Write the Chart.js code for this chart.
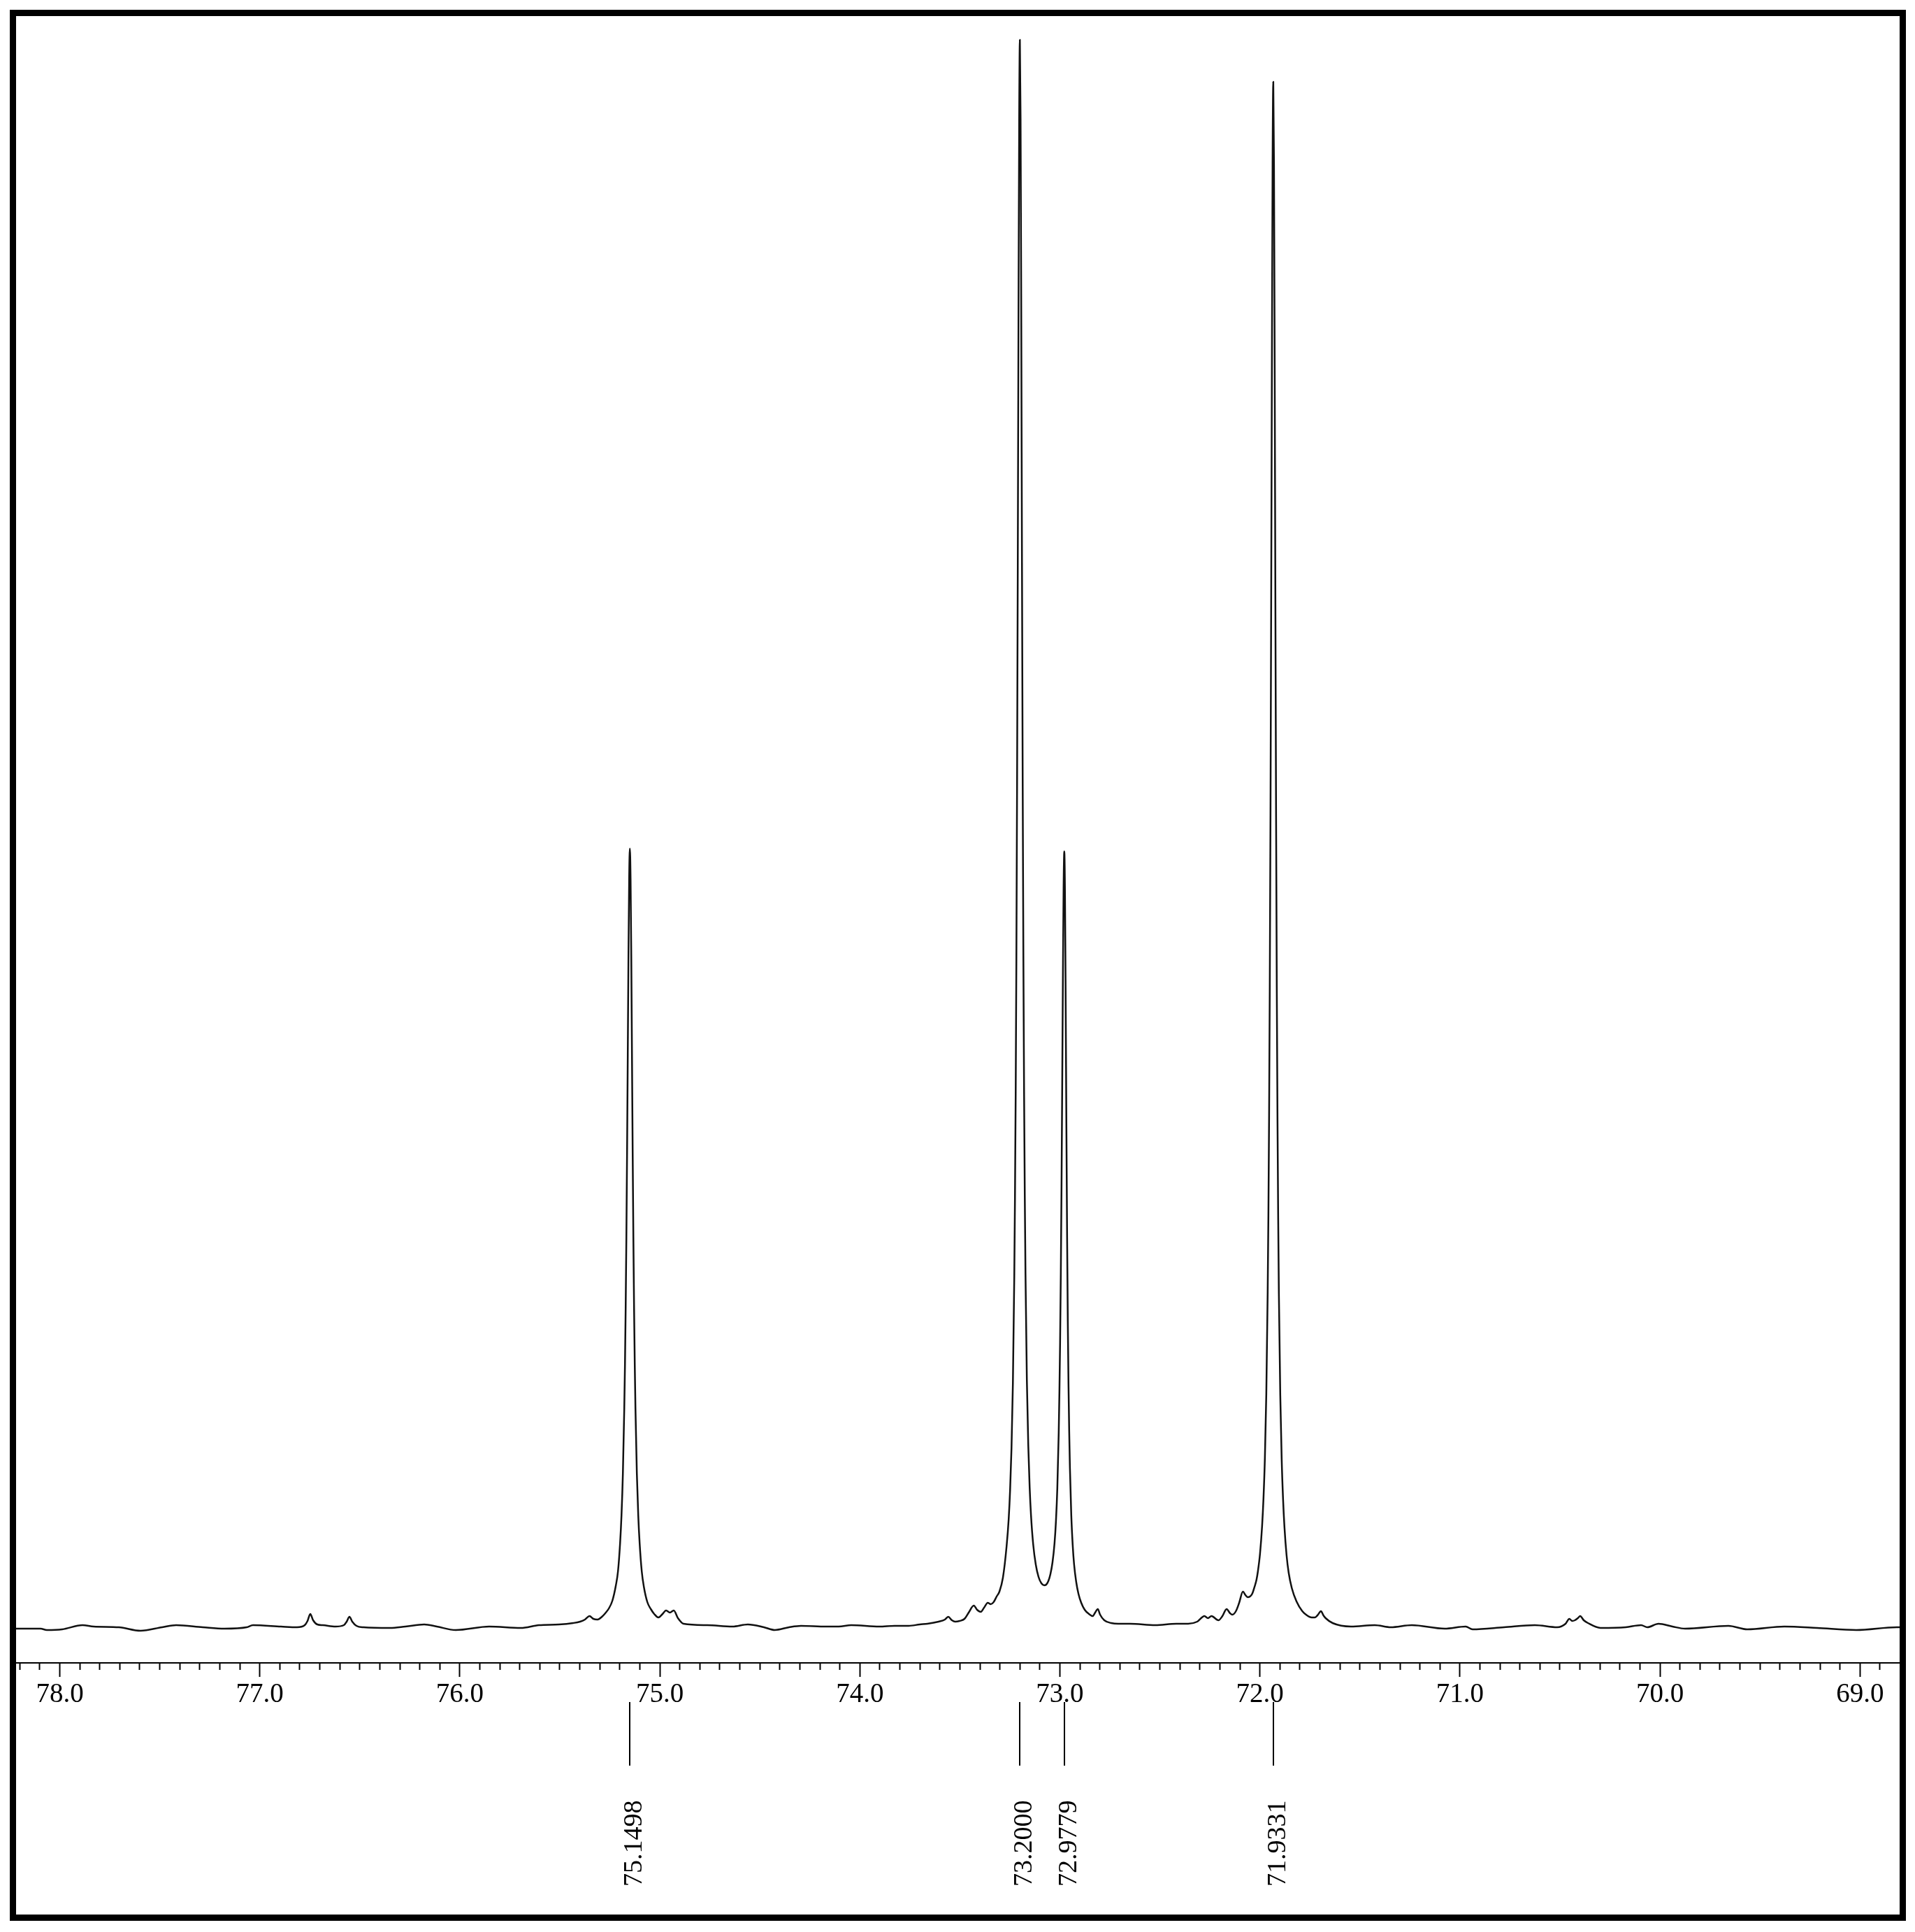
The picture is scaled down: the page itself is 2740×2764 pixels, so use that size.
<!DOCTYPE html>
<html>
<head>
<meta charset="utf-8">
<script src="https://cdn.jsdelivr.net/npm/chart.js@4.4.1/dist/chart.umd.min.js"></script>
<style>
  html, body { margin: 0; padding: 0; background: #ffffff; }
  #wrap { position: relative; width: 2740px; height: 2764px; }
  canvas { display: block; }
</style>
</head>
<body>
<div id="wrap"><canvas id="nmr" width="2740" height="2764"></canvas></div>
<script>
// ---- Spectrum data (chemical shift in ppm, intensity in arbitrary units) ----
const shiftPpm = [
  78.2289, 78.0961, 78.0646, 77.9878, 77.8864, 77.8305, 77.7047, 77.5964, 77.4881, 77.4182,
  77.2855, 77.1771, 77.0653, 77.0339, 76.8941, 76.8138, 76.7753, 76.7613, 76.7474, 76.7334,
  76.7124, 76.6845, 76.6216, 76.5797, 76.5657, 76.5517, 76.5377, 76.5167, 76.4818, 76.3490,
  76.2722, 76.1779, 76.1149, 76.0206, 75.8529, 75.6956, 75.6048, 75.5035, 75.4336, 75.3986,
  75.3742, 75.3515, 75.3323, 75.3113, 75.2896, 75.2728, 75.2546, 75.2372, 75.2197, 75.2092,
  75.1987, 75.1917, 75.1847, 75.1778, 75.1743, 75.1708, 75.1673, 75.1638, 75.1603, 75.1568,
  75.1533, 75.1498, 75.1463, 75.1428, 75.1393, 75.1358, 75.1323, 75.1288, 75.1253, 75.1219,
  75.1149, 75.1079, 75.1009, 75.0904, 75.0799, 75.0625, 75.0450, 75.0282, 75.0072, 74.9863,
  74.9688, 74.9496, 74.9304, 74.9094, 74.8815, 74.7627, 74.6369, 74.5601, 74.4797, 74.4255,
  74.3539, 74.2945, 74.1687, 74.1058, 74.0429, 73.9032, 73.8263, 73.7564, 73.7005, 73.6621,
  73.6062, 73.5747, 73.5583, 73.5398, 73.5234, 73.5013, 73.4769, 73.4559, 73.4304, 73.4140,
  73.3955, 73.3790, 73.3605, 73.3459, 73.3312, 73.3162, 73.3022, 73.2847, 73.2664, 73.2559,
  73.2489, 73.2419, 73.2349, 73.2280, 73.2245, 73.2210, 73.2175, 73.2140, 73.2105, 73.2070,
  73.2035, 73.2000, 73.1965, 73.1930, 73.1895, 73.1860, 73.1825, 73.1790, 73.1755, 73.1720,
  73.1651, 73.1581, 73.1511, 73.1441, 73.1336, 73.1207, 73.1067, 73.0927, 73.0788, 73.0683,
  73.0578, 73.0473, 73.0368, 73.0268, 73.0198, 73.0128, 73.0059, 73.0024, 72.9989, 72.9954,
  72.9919, 72.9884, 72.9849, 72.9814, 72.9779, 72.9744, 72.9709, 72.9674, 72.9639, 72.9604,
  72.9569, 72.9534, 72.9499, 72.9430, 72.9360, 72.9290, 72.9185, 72.9073, 72.8933, 72.8759,
  72.8549, 72.8364, 72.8235, 72.8105, 72.7990, 72.7780, 72.7431, 72.7082, 72.6488, 72.5230,
  72.4182, 72.3587, 72.3133, 72.2773, 72.2598, 72.2423, 72.2074, 72.1875, 72.1665, 72.1490,
  72.1375, 72.1200, 72.1036, 72.0851, 72.0722, 72.0617, 72.0495, 72.0383, 72.0267, 72.0170,
  72.0100, 71.9995, 71.9890, 71.9820, 71.9750, 71.9680, 71.9611, 71.9576, 71.9541, 71.9506,
  71.9471, 71.9436, 71.9401, 71.9366, 71.9331, 71.9296, 71.9261, 71.9226, 71.9191, 71.9156,
  71.9121, 71.9086, 71.9052, 71.8982, 71.8912, 71.8842, 71.8772, 71.8667, 71.8562, 71.8405,
  71.8171, 71.7881, 71.7647, 71.7413, 71.7263, 71.7123, 71.6948, 71.6826, 71.6714, 71.6365,
  71.5447, 71.4259, 71.3455, 71.2407, 71.0764, 70.9716, 70.9367, 70.7794, 70.6257, 70.5139,
  70.4720, 70.4531, 70.4388, 70.4251, 70.4108, 70.3986, 70.3811, 70.3601, 70.2973, 70.1715,
  70.0946, 70.0632, 70.0072, 69.9374, 69.8745, 69.6578, 69.5635, 69.3783, 69.2141, 69.0184,
  68.8158, 68.7600
];
const intensity = [
  -2, -2, -4, -3, 3, 1, 0, -5, 0, 3,
  0, -2, 0, 3, 1, 0, 3, 9, 19, 10,
  4, 3, 1, 3, 8, 15, 8, 2, 0, -1,
  1, 4, 1, -4, 1, -1, 3, 4, 6, 8,
  11, 16, 12, 11, 15, 20, 27, 38, 60, 80,
  120, 160, 220, 313, 375, 457, 557, 679, 819, 960,
  1071, 1114, 1071, 960, 819, 679, 557, 457, 375, 313,
  220, 160, 120, 80, 58, 36, 26, 19, 14, 19,
  24, 21, 24, 13, 5, 3, 1, 4, 0, -4,
  0, 2, 1, 1, 3, 1, 2, 2, 4, 5,
  8, 11, 15, 10, 8, 9, 12, 21, 31, 25,
  22, 28, 35, 33, 36, 44, 51, 71, 116, 155,
  196, 256, 349, 502, 614, 761, 955, 1206, 1518, 1861,
  2154, 2271, 2158, 1865, 1522, 1210, 959, 766, 619, 507,
  354, 261, 200, 159, 119, 90, 72, 63, 60, 61,
  66, 76, 93, 120, 151, 199, 277, 335, 408, 504,
  626, 773, 929, 1058, 1110, 1045, 890, 713, 559, 438,
  347, 280, 229, 160, 118, 90, 65, 48, 35, 25,
  19, 16, 21, 26, 18, 10, 6, 5, 5, 3,
  5, 5, 8, 16, 13, 16, 10, 16, 26, 20,
  18, 23, 35, 51, 46, 43, 44, 48, 58, 68,
  80, 105, 145, 185, 243, 334, 480, 587, 729, 917,
  1161, 1466, 1804, 2094, 2211, 2092, 1802, 1464, 1159, 915,
  727, 585, 478, 332, 241, 183, 143, 103, 78, 56,
  37, 23, 17, 14, 14, 17, 23, 17, 13, 6,
  1, 3, 0, 3, -2, 1, -3, 0, 3, 0,
  5, 12, 9, 10, 13, 16, 10, 6, -1, 0,
  3, 0, 5, 1, -2, 2, -3, 1, -1, -4,
  0, 0
];

// ---- Picked peaks ----
const peakShifts = [75.1498, 73.2000, 72.9779, 71.9331];
const peakLabelText = ['75.1498', '73.2000', '72.9779', '71.9331'];

// ---- Axis ----
const axisMaxPpm = 78.2184;   // left edge
const axisMinPpm = 68.8018;   // right edge
const majorTickLabels = ['78.0', '77.0', '76.0', '75.0', '74.0', '73.0', '72.0', '71.0', '70.0', '69.0'];
const tickFirstTenths = 689;  // 68.9
const tickLastTenths = 782;   // 78.2

const isMajor = v => Math.abs(v - Math.round(v)) < 1e-6;

const frameAndPeaks = {
  id: 'frameAndPeaks',
  beforeDraw(chart) {
    const ctx = chart.ctx;
    ctx.save();
    ctx.fillStyle = '#ffffff';
    ctx.fillRect(0, 0, chart.width, chart.height);
    ctx.restore();
  },
  afterDraw(chart) {
    const ctx = chart.ctx;
    const xs = chart.scales.x;
    ctx.save();
    // picked-peak markers and labels
    ctx.strokeStyle = '#000';
    ctx.fillStyle = '#000';
    ctx.lineWidth = 2;
    ctx.font = '38px "Liberation Serif", "Times New Roman", serif';
    const lineTop = xs.top + 56, lineBottom = xs.top + 147, textStart = xs.top + 320;
    peakShifts.forEach((p, i) => {
      const px = Math.round(xs.getPixelForValue(p));
      ctx.beginPath();
      ctx.moveTo(px, lineTop);
      ctx.lineTo(px, lineBottom);
      ctx.stroke();
      ctx.save();
      ctx.translate(px + 7, textStart);
      ctx.rotate(-Math.PI / 2);
      ctx.textAlign = 'left';
      ctx.textBaseline = 'middle';
      ctx.fillText(peakLabelText[i], 0, 0);
      ctx.restore();
    });
    // outer frame
    ctx.lineWidth = 9;
    ctx.strokeRect(18.5, 18.5, 2704, 2725);
    ctx.restore();
  }
};

const points = shiftPpm.map((x, i) => ({ x: x, y: intensity[i] }));

new Chart(document.getElementById('nmr'), {
  type: 'line',
  data: {
    datasets: [{
      data: points,
      borderColor: '#111111',
      borderWidth: 2.5,
      pointRadius: 0,
      fill: false,
      cubicInterpolationMode: 'monotone',
      borderJoinStyle: 'round'
    }]
  },
  options: {
    responsive: false,
    devicePixelRatio: 1,
    animation: false,
    events: [],
    layout: { padding: { left: 23, right: 22, top: 23, bottom: 0 } },
    plugins: { legend: { display: false }, tooltip: { enabled: false } },
    scales: {
      x: {
        type: 'linear',
        reverse: true,
        min: axisMinPpm,
        max: axisMaxPpm,
        afterBuildTicks: (axis) => {
          const t = [];
          for (let i = tickFirstTenths; i <= tickLastTenths; i++) t.push({ value: i / 10 });
          axis.ticks = t;
        },
        afterFit: (axis) => { axis.height = 385; },
        border: { display: true, color: '#000000', width: 2 },
        grid: {
          display: true,
          drawOnChartArea: false,
          drawTicks: true,
          tickLength: 20,
          tickWidth: 2,
          tickColor: '#000000',
          tickBorderDash: (ctx) => (ctx.tick && isMajor(ctx.tick.value)) ? [] : [9, 40]
        },
        ticks: {
          autoSkip: false,
          maxRotation: 0,
          minRotation: 0,
          padding: 2,
          color: '#000000',
          font: { family: '"Liberation Serif", "Times New Roman", serif', size: 39 },
          callback: (v) => {
            if (!isMajor(v)) return '';
            const idx = 78 - Math.round(v);
            return majorTickLabels[idx];
          }
        }
      },
      y: {
        display: false,
        min: -51,
        max: 2305
      }
    }
  },
  plugins: [frameAndPeaks]
});
</script>
</body>
</html>
